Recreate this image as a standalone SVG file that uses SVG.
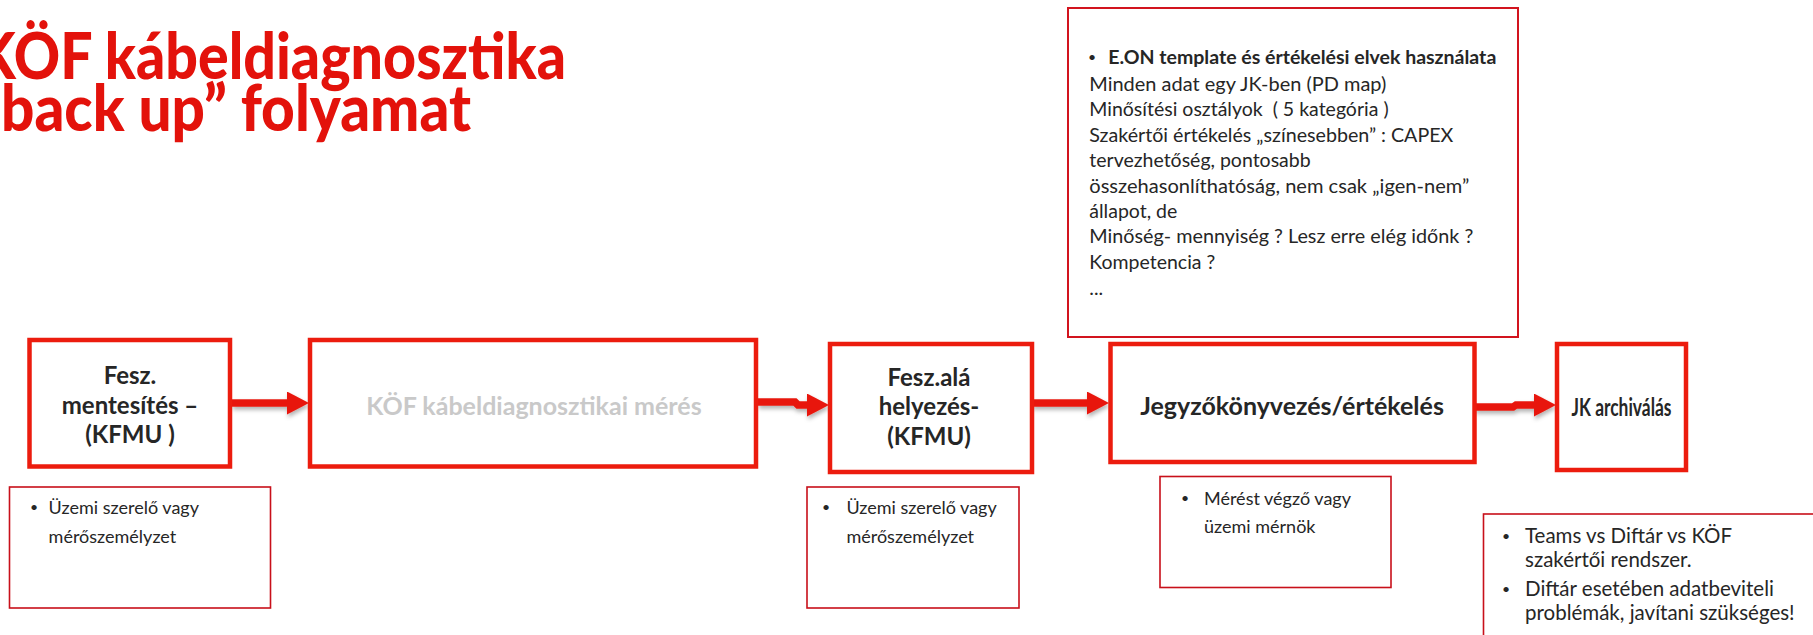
<svg xmlns="http://www.w3.org/2000/svg" width="1813" height="635" viewBox="0 0 1813 635">
<style>
.title{font-family:Lato,"Liberation Sans",sans-serif;font-weight:900;font-size:64px;fill:#e3120b}
.main{fill:#fff;stroke:#ec1c0e;stroke-width:4.5}
.note{fill:#fff;stroke:#c8101a;stroke-width:1.6}
.bl{font-family:Lato,"Liberation Sans",sans-serif;font-weight:700;font-size:25px;fill:#262626;text-anchor:middle}
.b24{font-size:24px}
.gray{fill:#c9c9c9}
.tx{font-family:Lato,"Liberation Sans",sans-serif;font-size:19.5px;fill:#262626}
.sm{font-family:Lato,"Liberation Sans",sans-serif;font-size:18px;fill:#262626}
.md{font-family:Lato,"Liberation Sans",sans-serif;font-size:20.5px;fill:#262626}
.bu{font-family:Lato,"Liberation Sans",sans-serif;font-size:14px;fill:#262626}
.b{font-weight:700}
.conn{fill:none;stroke:#e8190c;stroke-width:7.5}
</style>
<defs>
<marker id="ah" markerUnits="userSpaceOnUse" markerWidth="23" markerHeight="24" refX="0" refY="11.5" orient="auto">
<path d="M0,0 L22,11.5 L0,23 z" fill="#e8190c"/>
</marker>
<filter id="sh" filterUnits="userSpaceOnUse" x="200" y="370" width="1400" height="70">
<feDropShadow dx="1" dy="3" stdDeviation="2" flood-color="#000" flood-opacity="0.3"/>
</filter>
</defs>

<g id="title">
<text class="title" x="-24" y="79" textLength="590" lengthAdjust="spacingAndGlyphs">KÖF kábeldiagnosztika</text>
<text class="title" x="1" y="131" textLength="470" lengthAdjust="spacingAndGlyphs">back up” folyamat</text>
</g>

<g id="note-top">
<rect x="1068" y="8" width="450" height="329" fill="#fff" stroke="#d2141e" stroke-width="2"/>
<text class="bu" x="1088" y="62">•</text>
<text class="tx b" x="1108.3" y="64" textLength="388" lengthAdjust="spacingAndGlyphs">E.ON template és értékelési elvek használata</text>
<text class="tx" x="1089.3" y="90.7" textLength="297" lengthAdjust="spacingAndGlyphs">Minden adat egy JK-ben (PD map)</text>
<text class="tx" x="1089.3" y="116" xml:space="preserve">Minősítési osztályok  ( 5 kategória )</text>
<text class="tx" x="1089.3" y="141.7" textLength="364" lengthAdjust="spacingAndGlyphs">Szakértői értékelés „színesebben” : CAPEX</text>
<text class="tx" x="1089.3" y="166.7">tervezhetőség, pontosabb</text>
<text class="tx" x="1089.3" y="192.7" textLength="380" lengthAdjust="spacingAndGlyphs">összehasonlíthatóság, nem csak „igen-nem”</text>
<text class="tx" x="1089.3" y="218.3">állapot, de</text>
<text class="tx" x="1089.3" y="243.3" textLength="384" lengthAdjust="spacingAndGlyphs">Minőség- mennyiség ? Lesz erre elég időnk ?</text>
<text class="tx" x="1089.3" y="269.3">Kompetencia ?</text>
<text class="tx" x="1089.3" y="295">...</text>
</g>

<g id="connectors" filter="url(#sh)">
<path class="conn" d="M232,403 H287" marker-end="url(#ah)"/>
<path class="conn" d="M758,402 H795 L798,405 H807" marker-end="url(#ah)"/>
<path class="conn" d="M1032,403 H1087" marker-end="url(#ah)"/>
<path class="conn" d="M1474.5,407 H1513 L1516,405 H1534" marker-end="url(#ah)"/>
</g>

<g id="n1">
<rect class="main" x="29.5" y="340" width="200.5" height="126.5"/>
<text class="bl b24" x="130" y="384">Fesz.</text>
<text class="bl b24" x="130" y="414">mentesítés –</text>
<text class="bl b24" x="130" y="443">(KFMU )</text>
</g>
<g id="n2">
<rect class="main" x="310" y="340" width="446" height="126.5"/>
<text class="bl gray" x="534" y="415">KÖF kábeldiagnosztikai mérés</text>
</g>
<g id="n3">
<rect class="main" x="830" y="344" width="202" height="128"/>
<text class="bl b24" x="929" y="386">Fesz.alá</text>
<text class="bl b24" x="929" y="415">helyezés-</text>
<text class="bl b24" x="929" y="445">(KFMU)</text>
</g>
<g id="n4">
<rect class="main" x="1110.5" y="344" width="364" height="118"/>
<text class="bl" x="1292" y="415">Jegyzőkönyvezés/értékelés</text>
</g>
<g id="n5">
<rect class="main" x="1557" y="344" width="129" height="126"/>
<text class="bl" x="1621.5" y="416" textLength="100" lengthAdjust="spacingAndGlyphs">JK archiválás</text>
</g>

<g id="note1">
<rect class="note" x="9.5" y="487" width="261" height="121"/>
<text class="bu" x="30" y="512">•</text>
<text class="sm" x="48.6" y="514">Üzemi szerelő vagy</text>
<text class="sm" x="48.6" y="543">mérőszemélyzet</text>
</g>
<g id="note2">
<rect class="note" x="807" y="487" width="212" height="121"/>
<text class="bu" x="822" y="512">•</text>
<text class="sm" x="846.4" y="514">Üzemi szerelő vagy</text>
<text class="sm" x="846.4" y="543">mérőszemélyzet</text>
</g>
<g id="note3">
<rect class="note" x="1160" y="476.5" width="231" height="111"/>
<text class="bu" x="1181" y="503">•</text>
<text class="sm" x="1204" y="505">Mérést végző vagy</text>
<text class="sm" x="1204" y="533">üzemi mérnök</text>
</g>
<g id="note4">
<rect class="note" x="1483.5" y="514" width="340" height="130"/>
<text class="bu" x="1502" y="541">•</text>
<text class="md" x="1525" y="543">Teams vs Diftár vs KÖF</text>
<text class="md" x="1525" y="567">szakértői rendszer.</text>
<text class="bu" x="1502" y="594">•</text>
<text class="md" x="1525" y="596">Diftár esetében adatbeviteli</text>
<text class="md" x="1525" y="620">problémák, javítani szükséges!</text>
</g>
</svg>
